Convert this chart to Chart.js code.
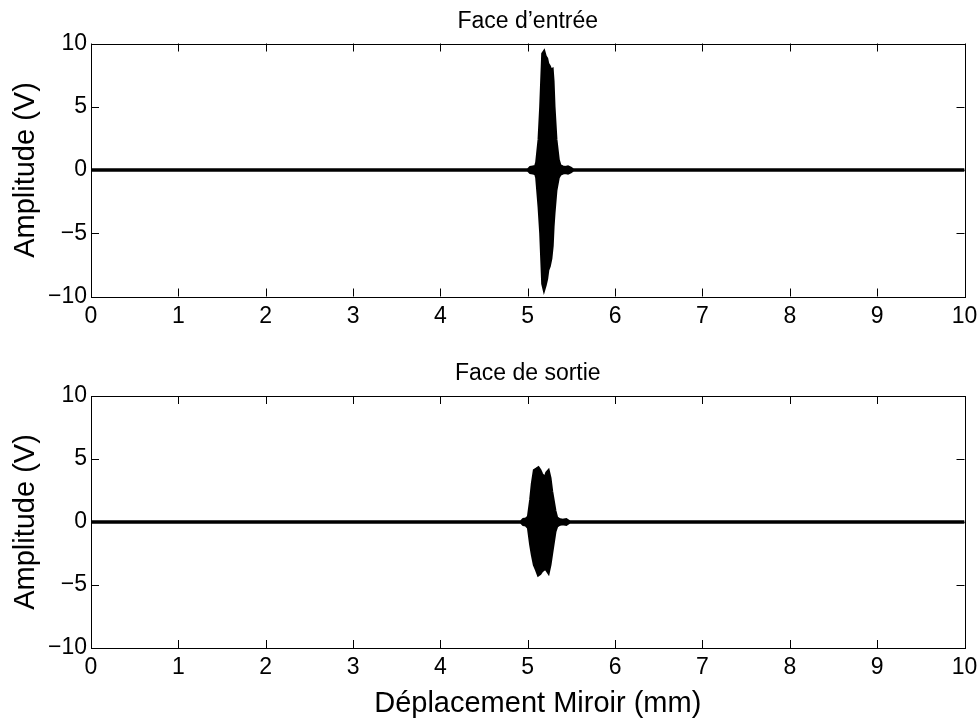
<!DOCTYPE html>
<html>
<head>
<meta charset="utf-8">
<title>Face d'entrée / Face de sortie</title>
<script src="https://cdn.jsdelivr.net/npm/chart.js@4.4.0/dist/chart.umd.min.js"></script>
<style>
  html, body { margin: 0; padding: 0; background: #fff; }
  #wrap { position: relative; width: 980px; height: 721px; overflow: hidden; }
  canvas { position: absolute; left: 0; }
  #entree { top: 0; }
  #sortie { top: 355px; }
</style>
</head>
<body>
<div id="wrap">
  <canvas id="entree" width="980" height="355"></canvas>
  <canvas id="sortie" width="980" height="366"></canvas>
</div>
<script>
// --- Data (mm, V) ---
const xTicks = [0, 1, 2, 3, 4, 5, 6, 7, 8, 9, 10];
const yTicks = [-10, -5, 0, 5, 10];

// upper / lower envelope of the interferogram, entry face
const entreeX    = [0, 5.00, 5.03, 5.06, 5.09, 5.102, 5.129, 5.148, 5.171, 5.186, 5.20, 5.217, 5.23, 5.247, 5.265, 5.28, 5.29, 5.301, 5.323, 5.35, 5.37, 5.40, 5.43, 5.46, 5.49, 5.52, 10];
const entreeHaut = [0, 0, 0.2, 0.25, 0.3, 0.6, 2.4, 5.0, 9.2, 9.35, 9.0, 8.8, 8.4, 8.2, 7.9, 7.95, 7.0, 5.0, 2.4, 0.8, 0.35, 0.25, 0.2, 0.25, 0.15, 0, 0];
const entreeBas  = [0, 0, -0.2, -0.25, -0.3, -0.6, -2.9, -5.0, -9.0, -9.43, -9.1, -8.6, -7.9, -7.6, -7.0, -6.0, -4.5, -3.4, -1.6, -0.6, -0.35, -0.25, -0.2, -0.25, -0.15, 0, 0];

// exit face
const sortieX    = [0, 4.92, 4.95, 4.98, 5.007, 5.033, 5.052, 5.075, 5.10, 5.121, 5.14, 5.16, 5.197, 5.217, 5.236, 5.255, 5.274, 5.312, 5.331, 5.36, 5.40, 5.44, 5.48, 10];
const sortieHaut = [0, 0, 0.2, 0.25, 0.4, 1.75, 3.05, 4.1, 4.2, 4.3, 4.1, 3.8, 3.5, 3.9, 4.05, 3.5, 2.45, 0.87, 0.35, 0.2, 0.15, 0.2, 0, 0];
const sortieBas  = [0, 0, -0.2, -0.25, -0.45, -1.8, -2.6, -3.4, -3.8, -4.2, -4.1, -3.9, -3.7, -3.8, -4.0, -3.4, -2.5, -0.75, -0.35, -0.2, -0.15, -0.2, 0, 0];

const FONT = 'Liberation Sans, Arial, Helvetica, sans-serif';

// --- box, inward ticks and texts (MATLAB look) ---
const matlabAxes = {
  id: 'matlabAxes',
  afterDraw(chart, args, opts) {
    const { ctx, chartArea: a, scales } = chart;
    const L = 8;
    ctx.save();
    ctx.strokeStyle = '#000';
    ctx.lineWidth = 1;
    ctx.strokeRect(Math.round(a.left) + 0.5, Math.round(a.top) + 0.5,
                   Math.round(a.right - a.left), Math.round(a.bottom - a.top));
    ctx.beginPath();
    scales.x.ticks.forEach(t => {
      const px = Math.round(scales.x.getPixelForValue(t.value)) + 0.5;
      ctx.moveTo(px, a.bottom); ctx.lineTo(px, a.bottom - L);
      ctx.moveTo(px, a.top); ctx.lineTo(px, a.top + L);
    });
    scales.y.ticks.forEach(t => {
      const py = Math.round(scales.y.getPixelForValue(t.value)) + 0.5;
      ctx.moveTo(a.left, py); ctx.lineTo(a.left + L, py);
      ctx.moveTo(a.right, py); ctx.lineTo(a.right - L, py);
    });
    ctx.stroke();

    ctx.fillStyle = '#000';
    ctx.textBaseline = 'alphabetic';
    ctx.textAlign = 'center';
    ctx.font = '23px ' + FONT;
    ctx.fillText(opts.title, (a.left + a.right) / 2, a.top - opts.titleGap);

    ctx.font = '29px ' + FONT;
    ctx.save();
    ctx.translate(33.5, (a.top + a.bottom) / 2);
    ctx.rotate(-Math.PI / 2);
    ctx.fillText('Amplitude (V)', 0, 0);
    ctx.restore();

    if (opts.xlabel) {
      ctx.fillText(opts.xlabel, (a.left + a.right) / 2 + 10, a.bottom + 64);
    }
    ctx.restore();
  }
};

function makeChart(id, xs, haut, bas, title, xlabel, padTop, xHeight, titleGap) {
  const pts = ys => xs.map((x, i) => ({ x: x, y: ys[i] }));
  return new Chart(document.getElementById(id), {
    type: 'line',
    data: {
      datasets: [
        { data: pts(haut), borderColor: '#000', borderWidth: 3, pointRadius: 0, fill: false, tension: 0 },
        { data: pts(bas), borderColor: '#000', borderWidth: 3, pointRadius: 0, fill: '-1', backgroundColor: '#000', tension: 0 }
      ]
    },
    options: {
      responsive: false,
      animation: false,
      events: [],
      layout: { padding: { top: padTop, right: 15.5, left: 0, bottom: 0 } },
      plugins: {
        legend: { display: false },
        tooltip: { enabled: false },
        matlabAxes: { title: title, xlabel: xlabel, titleGap: titleGap }
      },
      scales: {
        x: {
          type: 'linear', min: 0, max: 10,
          afterBuildTicks: s => { s.ticks = xTicks.map(v => ({ value: v })); },
          afterFit: s => { s.height = xHeight; s.paddingLeft = 0; s.paddingRight = 0; },
          grid: { display: false, drawTicks: false },
          border: { display: false },
          ticks: { color: '#000', font: { family: FONT, size: 23 }, padding: 6, maxRotation: 0, autoSkip: false }
        },
        y: {
          min: -10, max: 10,
          afterBuildTicks: s => { s.ticks = yTicks.map(v => ({ value: v })); },
          afterFit: s => { s.width = 91; s.paddingTop = 0; s.paddingBottom = 0; },
          grid: { display: false, drawTicks: false },
          border: { display: false },
          ticks: {
            color: '#000', font: { family: FONT, size: 23 }, padding: 4,
            callback: v => String(v).replace('-', '\u2212')
          }
        }
      }
    },
    plugins: [matlabAxes]
  });
}

makeChart('entree', entreeX, entreeHaut, entreeBas, 'Face d\u2019entrée', null, 43.5, 355 - 296.5, 15.5);
makeChart('sortie', sortieX, sortieHaut, sortieBas, 'Face de sortie', 'Déplacement Miroir (mm)', 41, 366 - 293, 16.5);
</script>
</body>
</html>
